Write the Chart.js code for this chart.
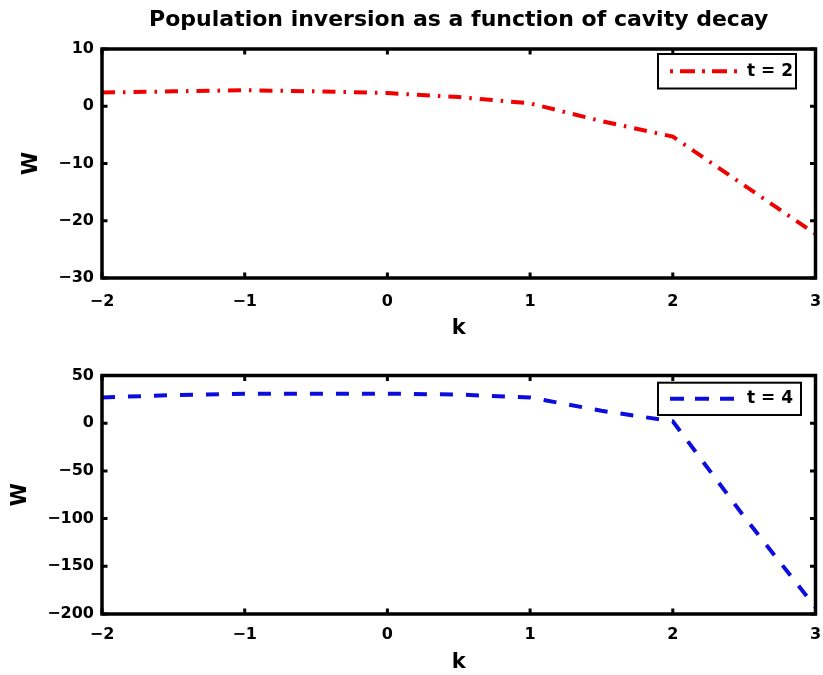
<!DOCTYPE html>
<html>
<head>
<meta charset="utf-8">
<script src="https://cdn.jsdelivr.net/npm/chart.js@4.4.0/dist/chart.umd.min.js"></script>
<style>
  html, body { margin: 0; padding: 0; background: #fff; }
  #top { position: absolute; left: 0; top: 0; width: 823px; height: 345px; }
  #bottom { position: absolute; left: 0; top: 340px; width: 823px; height: 335px; z-index: 2; }
</style>
</head>
<body>
<div id="top"><canvas id="chartTop"></canvas></div>
<div id="bottom"><canvas id="chartBottom"></canvas></div>
<script>
// values
const kValues = [-2, -1.5, -1, -0.5, 0, 0.5, 1, 1.5, 2, 2.5, 3];
const wT2 = [2.4, 2.6, 2.8, 2.6, 2.3, 1.6, 0.5, -2.6, -5.3, -13.8, -22.3];
const wT4 = [27, 29.5, 31, 31, 31, 30, 27, 13, 2, -98, -193];

const kTicks = [-2, -1, 0, 1, 2, 3];
const wTicksTop = [-30, -20, -10, 0, 10];
const wTicksBottom = [-200, -150, -100, -50, 0, 50];

const FONT = '"DejaVu Sans", "Liberation Sans", Arial, sans-serif';

const fmt = v => (v < 0 ? '\u2212' + Math.abs(v) : String(v));

// matlab style box with inward ticks on all four sides
const matlabBox = {
  id: 'matlabBox',
  afterDatasetsDraw(chart) {
    const {ctx, chartArea: a, scales: {x, y}} = chart;
    const len = 5.5;
    ctx.save();
    ctx.strokeStyle = '#000';
    ctx.lineWidth = 3;
    ctx.beginPath();
    x.ticks.forEach(t => {
      const px = x.getPixelForValue(t.value);
      ctx.moveTo(px, a.bottom); ctx.lineTo(px, a.bottom - len);
      ctx.moveTo(px, a.top); ctx.lineTo(px, a.top + len);
    });
    y.ticks.forEach(t => {
      const py = y.getPixelForValue(t.value);
      ctx.moveTo(a.left, py); ctx.lineTo(a.left + len, py);
      ctx.moveTo(a.right, py); ctx.lineTo(a.right - len, py);
    });
    ctx.stroke();
    ctx.lineWidth = 3.5;
    ctx.strokeRect(a.left, a.top, a.right - a.left, a.bottom - a.top);
    ctx.restore();
  }
};

const legendBox = {
  id: 'legendBox',
  afterDraw(chart, args, opts) {
    const ds = chart.data.datasets[0];
    const ctx = chart.ctx;
    const my = (opts.top + opts.bottom) / 2;
    ctx.save();
    ctx.fillStyle = '#fff';
    ctx.fillRect(opts.left, opts.top, opts.right - opts.left, opts.bottom - opts.top);
    ctx.strokeStyle = '#000';
    ctx.lineWidth = 2;
    ctx.strokeRect(opts.left, opts.top, opts.right - opts.left, opts.bottom - opts.top);
    ctx.strokeStyle = ds.borderColor;
    ctx.lineWidth = ds.borderWidth;
    ctx.setLineDash(opts.dash);
    ctx.beginPath();
    ctx.moveTo(opts.left + 12, my);
    ctx.lineTo(opts.left + 79, my);
    ctx.stroke();
    ctx.setLineDash([]);
    ctx.fillStyle = '#000';
    ctx.font = 'bold 17px ' + FONT;
    ctx.textBaseline = 'middle';
    ctx.fillText(ds.label, opts.left + 89, my);
    ctx.restore();
  }
};

function makeOptions(yMin, yMax, yTicks, extra) {
  return {
    responsive: true,
    maintainAspectRatio: false,
    animation: false,
    layout: { padding: { left: 0, right: 7.5, top: extra.padTop, bottom: 0 } },
    plugins: {
      legend: { display: false },
      tooltip: { enabled: false },
      title: extra.title,
      legendBox: extra.legend
    },
    scales: {
      x: {
        type: 'linear',
        min: -2, max: 3,
        afterBuildTicks: s => { s.ticks = kTicks.map(v => ({ value: v })); },
        afterFit: s => { s.height = extra.xHeight; s.paddingLeft = 0; s.paddingRight = 0; },
        grid: { display: false, drawTicks: false },
        border: { display: false },
        ticks: {
          padding: extra.xPad,
          color: '#000',
          maxRotation: 0,
          autoSkip: false,
          font: { family: FONT, size: 16, weight: 'bold' },
          callback: v => fmt(v)
        },
        title: {
          display: true, text: 'k', color: '#000',
          font: { family: FONT, size: 21, weight: 'bold' },
          padding: { top: 0, bottom: extra.kPad }
        }
      },
      y: {
        min: yMin, max: yMax,
        afterBuildTicks: s => { s.ticks = yTicks.map(v => ({ value: v })); },
        afterFit: s => { s.width = 102; s.paddingTop = 0; s.paddingBottom = 0; },
        grid: { display: false, drawTicks: false },
        border: { display: false },
        ticks: {
          padding: 8,
          color: '#000',
          autoSkip: false,
          font: { family: FONT, size: 16, weight: 'bold' },
          callback: v => fmt(v)
        },
        title: {
          display: true, text: 'W', color: '#000',
          font: { family: FONT, size: 21, weight: 'bold' },
          padding: { top: extra.wPad, bottom: 0 }
        }
      }
    }
  };
}

new Chart(document.getElementById('chartTop'), {
  type: 'line',
  data: {
    datasets: [{
      label: 't = 2',
      data: kValues.map((k, i) => ({ x: k, y: wT2[i] })),
      borderColor: '#f00000',
      borderWidth: 4,
      borderDash: [13, 8, 2.5, 8],
      pointRadius: 0,
      tension: 0,
      fill: false
    }]
  },
  options: makeOptions(-30, 10, wTicksTop, {
    padTop: 0,
    xHeight: 67,
    xPad: 14,
    kPad: 4,
    wPad: 19,
    title: {
      display: true,
      fullSize: false,
      text: 'Population inversion as a function of cavity decay',
      color: '#000',
      font: { family: FONT, size: 22, weight: 'bold' },
      padding: { top: 6.8, bottom: 15.8 }
    },
    legend: { left: 658, right: 796, top: 54, bottom: 88.5, dash: [3, 7, 15, 7] }
  }),
  plugins: [matlabBox, legendBox]
});

new Chart(document.getElementById('chartBottom'), {
  type: 'line',
  data: {
    datasets: [{
      label: 't = 4',
      data: kValues.map((k, i) => ({ x: k, y: wT4[i] })),
      borderColor: '#0c0cdc',
      borderWidth: 4,
      borderDash: [13, 13],
      pointRadius: 0,
      tension: 0,
      fill: false
    }]
  },
  options: makeOptions(-200, 50, wTicksBottom, {
    padTop: 35.5,
    xHeight: 61,
    xPad: 11,
    kPad: 0,
    wPad: 8.4,
    title: { display: false },
    legend: { left: 658, right: 801, top: 42.7, bottom: 75, dash: [14, 11] }
  }),
  plugins: [matlabBox, legendBox]
});
</script>
</body>
</html>
